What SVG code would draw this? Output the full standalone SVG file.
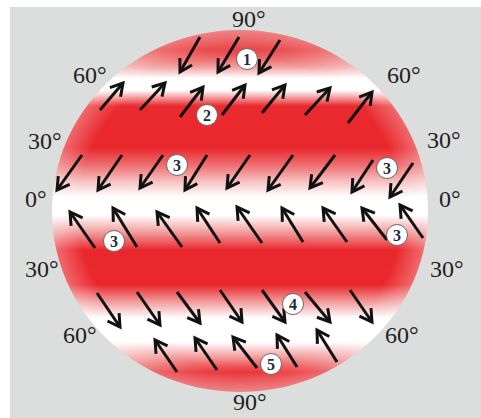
<svg xmlns="http://www.w3.org/2000/svg" width="481" height="418" viewBox="0 0 481 418">
<style>
.deg{font-family:"Liberation Serif","Times New Roman",serif;font-size:24px;fill:#222}
.ar{stroke:#111;stroke-width:3;fill:none;marker-end:url(#head)}
.badge circle{fill:#fff;stroke:#6a6a6a;stroke-width:1}
.badge text{font-family:"Liberation Serif",serif;font-weight:bold;font-size:16px;fill:#1c2b3a;text-anchor:middle}
</style>
<defs>
<linearGradient id="bands" gradientUnits="userSpaceOnUse" x1="0" y1="30" x2="0" y2="392">
<stop offset="0" stop-color="#e65052"/>
<stop offset="0.055" stop-color="#e8373a"/>
<stop offset="0.1" stop-color="#f29a9a"/>
<stop offset="0.133" stop-color="#ffffff"/>
<stop offset="0.166" stop-color="#ffffff"/>
<stop offset="0.21" stop-color="#e92a2f"/>
<stop offset="0.326" stop-color="#e9282d"/>
<stop offset="0.373" stop-color="#ee6d70"/>
<stop offset="0.42" stop-color="#f7c4c4"/>
<stop offset="0.461" stop-color="#ffffff"/>
<stop offset="0.511" stop-color="#ffffff"/>
<stop offset="0.56" stop-color="#f29a9a"/>
<stop offset="0.608" stop-color="#e9282d"/>
<stop offset="0.704" stop-color="#e9282d"/>
<stop offset="0.75" stop-color="#f29a9a"/>
<stop offset="0.796" stop-color="#ffffff"/>
<stop offset="0.862" stop-color="#ffffff"/>
<stop offset="0.905" stop-color="#f29a9a"/>
<stop offset="0.945" stop-color="#e9282d"/>
<stop offset="1" stop-color="#e65052"/>
</linearGradient>
<radialGradient id="rim" cx="0.5" cy="0.5" r="0.5">
<stop offset="0.86" stop-color="#fff" stop-opacity="0"/>
<stop offset="1" stop-color="#fff" stop-opacity="0.3"/>
</radialGradient>
<marker id="head" markerUnits="userSpaceOnUse" markerWidth="30" markerHeight="30" viewBox="-15 -15 30 30" refX="0" refY="0" orient="auto">
<path d="M-12,-7 L0,0 L-12,7" fill="none" stroke="#111" stroke-width="3"/>
</marker>
</defs>
<rect x="10" y="7" width="471" height="411" fill="#dcdedd"/>
<g id="sphere">
<ellipse cx="240" cy="211" rx="188" ry="181" fill="url(#bands)"/>
<ellipse cx="240" cy="211" rx="188" ry="181" fill="url(#rim)"/>
</g>
<g id="connectors">
<line class="ar" x1="200" y1="37" x2="180" y2="72"/>
<line class="ar" x1="239" y1="37" x2="218" y2="72"/>
<line class="ar" x1="280" y1="40" x2="259" y2="73"/>
<line class="ar" x1="100" y1="110" x2="123" y2="83"/>
<line class="ar" x1="140" y1="110" x2="165" y2="83"/>
<line class="ar" x1="180" y1="117" x2="203" y2="87"/>
<line class="ar" x1="222" y1="115" x2="245" y2="85"/>
<line class="ar" x1="262" y1="113" x2="285" y2="85"/>
<line class="ar" x1="305" y1="115" x2="330" y2="88"/>
<line class="ar" x1="348" y1="123" x2="372" y2="92"/>
<line class="ar" x1="82" y1="155" x2="57" y2="190"/>
<line class="ar" x1="122" y1="155" x2="98" y2="190"/>
<line class="ar" x1="163" y1="155" x2="140" y2="188"/>
<line class="ar" x1="207" y1="155" x2="185" y2="190"/>
<line class="ar" x1="250" y1="155" x2="227" y2="188"/>
<line class="ar" x1="293" y1="155" x2="268" y2="190"/>
<line class="ar" x1="335" y1="155" x2="310" y2="188"/>
<line class="ar" x1="373" y1="160" x2="352" y2="192"/>
<line class="ar" x1="413" y1="163" x2="390" y2="197"/>
<line class="ar" x1="95" y1="248" x2="70" y2="212"/>
<line class="ar" x1="137" y1="247" x2="113" y2="208"/>
<line class="ar" x1="182" y1="247" x2="157" y2="212"/>
<line class="ar" x1="220" y1="243" x2="197" y2="208"/>
<line class="ar" x1="262" y1="243" x2="237" y2="207"/>
<line class="ar" x1="303" y1="242" x2="282" y2="208"/>
<line class="ar" x1="347" y1="242" x2="323" y2="208"/>
<line class="ar" x1="387" y1="240" x2="362" y2="208"/>
<line class="ar" x1="423" y1="238" x2="400" y2="205"/>
<line class="ar" x1="97" y1="293" x2="120" y2="327"/>
<line class="ar" x1="137" y1="292" x2="160" y2="325"/>
<line class="ar" x1="177" y1="292" x2="200" y2="323"/>
<line class="ar" x1="220" y1="290" x2="242" y2="322"/>
<line class="ar" x1="262" y1="290" x2="285" y2="322"/>
<line class="ar" x1="305" y1="292" x2="330" y2="322"/>
<line class="ar" x1="350" y1="290" x2="372" y2="322"/>
<line class="ar" x1="177" y1="372" x2="155" y2="340"/>
<line class="ar" x1="217" y1="370" x2="195" y2="338"/>
<line class="ar" x1="257" y1="368" x2="233" y2="337"/>
<line class="ar" x1="297" y1="367" x2="277" y2="335"/>
<line class="ar" x1="337" y1="362" x2="317" y2="330"/>
</g>
<g id="badge-1" class="badge"><circle cx="247" cy="59" r="10.5"/><text x="247" y="65">1</text></g>
<g id="badge-2" class="badge"><circle cx="207" cy="115" r="10.5"/><text x="207" y="121">2</text></g>
<g id="badge-3a" class="badge"><circle cx="177" cy="165" r="10.5"/><text x="177" y="171">3</text></g>
<g id="badge-3b" class="badge"><circle cx="387" cy="168" r="10.5"/><text x="387" y="174">3</text></g>
<g id="badge-3c" class="badge"><circle cx="114" cy="241" r="10.5"/><text x="114" y="247">3</text></g>
<g id="badge-3d" class="badge"><circle cx="397" cy="235" r="10.5"/><text x="397" y="241">3</text></g>
<g id="badge-4" class="badge"><circle cx="293" cy="304" r="10.5"/><text x="293" y="310">4</text></g>
<g id="badge-5" class="badge"><circle cx="271" cy="364" r="10.5"/><text x="271" y="370">5</text></g>
<g id="labels">
<text class="deg" x="232" y="27">90°</text>
<text class="deg" x="73" y="83">60°</text>
<text class="deg" x="387" y="83">60°</text>
<text class="deg" x="28" y="149">30°</text>
<text class="deg" x="427" y="148">30°</text>
<text class="deg" x="25" y="207">0°</text>
<text class="deg" x="439" y="207">0°</text>
<text class="deg" x="25" y="277">30°</text>
<text class="deg" x="430" y="277">30°</text>
<text class="deg" x="63" y="343">60°</text>
<text class="deg" x="385" y="343">60°</text>
<text class="deg" x="233" y="410">90°</text>
</g>
</svg>
